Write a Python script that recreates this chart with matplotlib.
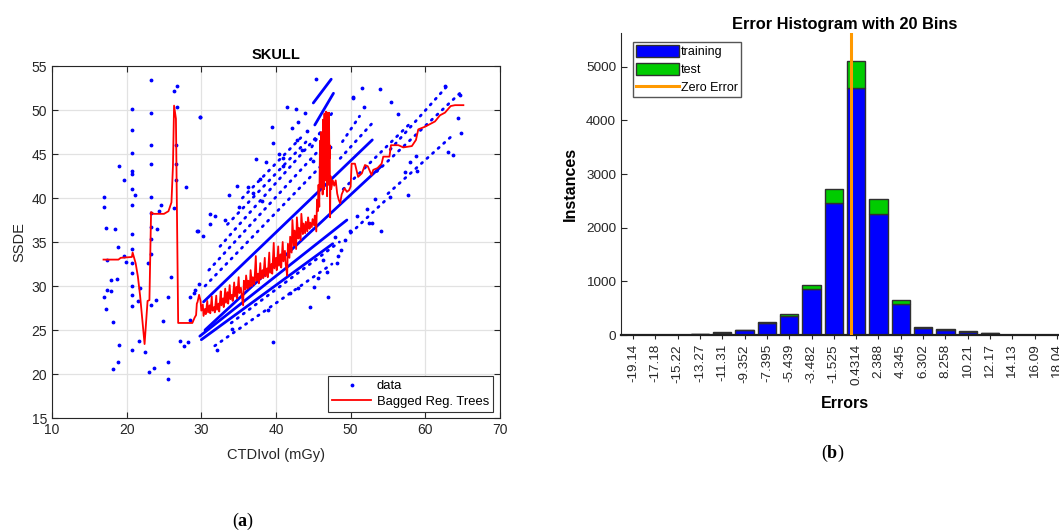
import numpy as np
import matplotlib.pyplot as plt
from matplotlib.lines import Line2D
from matplotlib.patches import Patch

plt.rcParams['font.family'] = ['Liberation Sans', 'DejaVu Sans']
plt.rcParams['mathtext.fontset'] = 'custom'
plt.rcParams['mathtext.bf'] = 'Liberation Serif:bold'

# ---- SKULL: CTDIvol vs SSDE ----
# isolated data points
pts_x = [16.93, 17.0, 17.2, 18.5, 19.0, 19.7, 18.8, 19.6, 19.9, 17.4, 17.95, 18.7, 17.4, 17.95,
         16.9, 17.2, 18.2, 19.0, 18.85, 18.2,
         20.77, 20.77, 20.77, 20.77, 20.77, 20.77, 20.77, 20.77, 20.77, 20.77, 20.77, 20.77,
         20.77, 20.77, 20.77,
         21.1, 21.8, 21.5, 21.7, 22.4,
         23.27, 23.27, 23.27, 23.27, 23.27, 23.27, 23.27, 23.27, 23.27,
         22.9, 23.2, 23.9, 24.1, 24.3, 24.65, 23.6, 23.05, 24.9, 25.55, 26.0, 25.6, 25.6,
         26.35, 26.4, 26.7, 26.7, 26.6, 26.6, 26.6, 27.9, 29.8, 29.5, 29.7, 28.5, 29.1,
         28.5, 27.65, 27.1, 28.2,
         29.8, 41.42, 39.41, 39.63, 42.67, 45.35, 50.35, 37.3, 34.72, 33.73, 33.15, 31.8,
         31.23, 29.44, 42.98, 43.87, 44.2, 42.1, 42.76, 30.24, 31.1, 29.0,
         32.04, 39.55, 44.55, 47.0, 48.12, 41.86, 43.0, 48.7, 49.2,
         51.47, 53.93, 50.27, 51.83, 55.36, 56.4, 62.64, 64.65, 64.4, 64.74, 63.1, 63.76,
         57.72, 54.03, 52.8, 52.5, 55.27, 57.28, 57.95, 58.93, 58.75,
         36.2, 37.8, 38.6, 40.4, 41.0, 35.0, 36.9, 38.1, 40.9, 43.5, 44.9, 46.2, 47.3,
         48.3, 46.8, 45.6, 49.9, 50.8, 52.2, 53.3, 47.9, 46.3, 45.1, 38.9, 34.1]
pts_y = [40.11, 38.98, 36.63, 36.5, 43.67, 42.1, 34.47, 33.4, 32.7, 33.0, 30.64, 30.83, 29.6, 29.47,
         28.75, 27.35, 25.9, 23.26, 21.36, 20.6,
         50.15, 47.69, 45.15, 43.07, 42.69, 40.98, 39.17, 35.87, 34.17, 32.65, 31.44, 30.0,
         28.94, 27.73, 22.73,
         40.3, 29.77, 28.3, 23.75, 22.5,
         53.4, 49.7, 46.0, 43.9, 40.15, 38.33, 36.7, 35.3, 33.67,
         32.65, 27.84, 28.37, 36.5, 38.5, 39.17, 20.7, 20.2, 26.0, 28.75, 31.0, 21.4, 19.4,
         38.83, 52.16, 52.7, 50.3, 46.06, 43.9, 42.05, 41.2, 49.2, 36.25, 30.2, 28.8, 29.6,
         26.1, 23.2, 23.75, 23.6,
         49.24, 50.3, 48.1, 46.2, 50.07, 53.5, 51.44, 44.4, 41.4, 40.34, 37.5, 38.0,
         37.1, 36.3, 48.67, 49.62, 47.6, 47.9, 46.6, 35.68, 38.2, 29.2,
         22.73, 23.67, 27.58, 28.7, 32.58, 29.24, 29.8, 34.1, 35.2,
         52.53, 52.35, 51.4, 50.38, 50.95, 49.6, 52.73, 51.7, 49.05, 47.35, 45.26, 44.9,
         40.34, 36.3, 37.2, 37.2, 40.15, 43.0, 44.1, 43.1, 44.8,
         41.3, 42.2, 44.1, 45.0, 43.6, 39.0, 40.6, 39.7, 44.5, 45.5, 44.2, 43.4, 45.8,
         33.4, 31.6, 30.9, 36.3, 37.9, 38.8, 39.9, 35.6, 33.0, 29.9, 27.3, 25.1]

# dense diagonal runs of points (start x, start y, end x, end y)
dense_x0 = [30.0, 29.8, 30.5, 30.3, 45.0, 45.2]
dense_y0 = [23.9, 24.3, 25.0, 28.2, 50.8, 48.3]
dense_x1 = [47.6, 49.5, 54.1, 52.9, 47.4, 47.7]
dense_y1 = [34.8, 37.5, 43.6, 46.6, 53.5, 51.9]

# sparser diagonal runs
sparse_x0 = [30.5, 31.0, 32.5, 33.5, 35.5, 44.8, 31.8, 34.0, 48.6, 48.9, 49.0, 53.5, 55.0, 50.0,
             55.3]
sparse_y0 = [30.0, 31.8, 34.5, 37.0, 40.0, 45.8, 23.2, 25.8, 44.5, 46.4, 41.0, 43.0, 40.5, 36.0,
             45.5]
sparse_x1 = [47.0, 45.5, 46.0, 44.5, 43.5, 47.6, 47.5, 48.5, 53.0, 51.2, 58.0, 65.0, 63.5, 55.0,
             62.8]
sparse_y1 = [44.5, 45.2, 47.5, 46.8, 47.0, 49.8, 32.5, 35.0, 48.6, 49.3, 48.5, 52.2, 47.0, 40.0,
             52.6]

# bagged regression tree prediction
fit_x = [16.9, 18.9, 19.2, 20.7, 20.8, 21.2, 21.5, 21.8, 22.4, 22.8, 23.05, 23.27, 23.6, 25.0,
         25.6, 26.0, 26.2, 26.35, 26.6, 26.9, 28.8, 29.1, 29.3, 29.4,
         29.5, 29.7, 29.9, 30.0, 30.2, 30.3, 30.5, 30.6, 30.8, 30.9, 31.1, 31.2, 31.4, 31.5,
         31.7, 31.8, 32.0, 32.1, 32.3, 32.4, 32.6, 32.7, 32.9, 33.0, 33.2, 33.3, 33.5, 33.6,
         33.8, 33.9, 34.1, 34.2, 34.4, 34.5, 34.7, 34.8, 35.0, 35.1, 35.3, 35.4, 35.6, 35.7,
         35.9, 36.0, 36.2, 36.3, 36.5, 36.6, 36.8, 36.9, 37.1, 37.3, 37.4, 37.6, 37.7, 37.9,
         38.0, 38.2, 38.3, 38.5, 38.6, 38.8, 38.9, 39.1, 39.2, 39.4, 39.5, 39.7, 39.8, 40.0,
         40.1, 40.3, 40.4, 40.6, 40.7, 40.9, 41.0, 41.2, 41.3, 41.5, 41.6, 41.8, 41.9, 42.1,
         42.2, 42.4, 42.5, 42.7, 42.8, 43.0, 43.1, 43.3, 43.4, 43.6, 43.7, 43.9, 44.0, 44.2,
         44.3, 44.5, 44.6, 44.8, 44.9, 45.1, 45.2, 45.4, 45.5, 45.6, 45.7, 45.8, 45.9, 46.0,
         46.05, 46.1, 46.2, 46.25, 46.3, 46.35, 46.4, 46.45, 46.5, 46.55, 46.6, 46.65, 46.7,
         46.75, 46.8, 46.85, 46.9, 46.95, 47.0, 47.05, 47.1, 47.15, 47.2, 47.25, 47.3, 47.4,
         47.6, 47.8, 48.0, 48.2, 48.4, 48.6, 48.8, 49.0, 49.2, 49.5, 49.8, 50.0,
         50.13, 50.58, 51.0, 51.5, 51.92, 52.3, 52.8, 53.03, 53.6, 54.15, 54.37, 55.2, 55.4,
         56.4, 57.05, 58.2, 58.75, 59.06, 59.96, 60.4, 61.3, 61.97, 62.64, 63.4, 63.98, 65.1]
fit_y = [33.0, 33.0, 33.2, 33.3, 33.8, 32.6, 31.1, 28.9, 23.4, 28.3, 28.4, 38.4, 38.2, 38.2,
         38.5, 39.5, 43.6, 50.5, 49.0, 25.8, 25.8, 26.4, 26.7, 28.0,
         28.2, 29.0, 28.3, 27.2, 27.9, 26.6, 27.4, 26.8, 28.3, 27.0, 27.8, 26.9, 28.8, 27.2,
         27.6, 27.0, 28.9, 27.3, 28.0, 27.1, 29.4, 27.8, 28.6, 27.6, 29.7, 28.1, 29.3, 28.0,
         30.1, 28.5, 29.0, 28.3, 30.4, 28.8, 29.9, 28.6, 31.0, 29.2, 29.8, 29.0, 27.8, 30.6,
         29.6, 31.2, 29.7, 30.6, 29.9, 31.8, 30.0, 31.0, 30.2, 33.4, 30.6, 31.4, 30.3, 32.6,
         30.8, 31.8, 30.9, 33.2, 31.1, 32.0, 31.0, 33.8, 31.5, 32.5, 31.4, 34.9, 32.0, 33.2,
         31.8, 34.5, 32.3, 33.6, 32.1, 35.0, 32.8, 34.0, 32.5, 31.2, 34.8, 33.2, 35.6, 33.8,
         37.5, 34.6, 36.3, 34.2, 37.8, 35.4, 36.6, 35.2, 38.2, 35.9, 37.1, 36.0, 37.3, 36.2,
         37.8, 36.5, 37.2, 36.7, 37.6, 36.9, 38.0, 36.2, 39.8, 38.5, 41.5, 39.0, 46.5, 41.2,
         47.5, 42.0, 45.6, 40.4, 48.9, 43.5, 46.0, 41.0, 49.6, 44.2, 47.8, 42.0, 49.8,
         45.0, 48.5, 40.2, 49.7, 43.8, 47.2, 41.5, 49.7, 44.5, 46.0, 37.8, 42.5, 41.0,
         42.0, 41.4, 42.0, 40.5, 39.8, 39.4, 40.4, 40.8, 41.1, 40.7, 40.9, 41.3,
         43.9, 43.9, 42.4, 42.8, 43.75, 43.6, 42.6, 43.2, 43.4, 43.9, 44.7, 44.7, 46.0,
         46.0, 45.75, 45.9, 46.6, 47.8, 48.1, 48.3, 48.7, 49.4, 49.7, 50.45, 50.55, 50.55]

# ---- error histogram ----
bin_labels = ['-19.14', '-17.18', '-15.22', '-13.27', '-11.31', '-9.352', '-7.395', '-5.439',
              '-3.482', '-1.525', '0.4314', '2.388', '4.345', '6.302', '8.258', '10.21',
              '12.17', '14.13', '16.09', '18.04']
training = [5, 5, 5, 15, 40, 85, 225, 355, 850, 2465, 4600, 2250, 585, 125, 95, 65, 35, 5, 5, 8]
test = [1, 1, 1, 5, 10, 8, 25, 35, 75, 265, 505, 280, 60, 25, 10, 10, 8, 1, 1, 1]

fig = plt.figure(figsize=(10.59, 5.31), dpi=100)
tick_col = '#262626'

# left panel
ax1 = fig.add_axes([0.0491, 0.2128, 0.4230, 0.6629])
for i in range(len(sparse_x0)):
    ax1.plot([sparse_x0[i], sparse_x1[i]], [sparse_y0[i], sparse_y1[i]], color='blue',
             lw=2.0, linestyle=(0, (0.5, 2.2)), dash_capstyle='round', zorder=2)
for i in range(len(dense_x0)):
    ax1.plot([dense_x0[i], dense_x1[i]], [dense_y0[i], dense_y1[i]], color='blue',
             lw=2.0, solid_capstyle='round', zorder=2)
ax1.plot(pts_x, pts_y, '.', color='blue', markersize=3.5, zorder=2)
ax1.plot(fit_x, fit_y, color='red', lw=1.3, zorder=3)

ax1.set_xlim(10, 70)
ax1.set_ylim(15, 55)
ax1.set_xticks(range(10, 71, 10))
ax1.set_yticks(range(15, 56, 5))
ax1.grid(True, color='#e2e2e2', lw=0.9)
ax1.set_axisbelow(True)
ax1.tick_params(direction='in', length=4, top=True, right=True, labelsize=10,
                colors=tick_col, width=0.8)
for s in ax1.spines.values():
    s.set_color(tick_col)
    s.set_linewidth(0.8)
ax1.set_title('SKULL', fontsize=10.5, fontweight='bold', pad=5)
ax1.set_xlabel('CTDIvol (mGy)', fontsize=10.5, color=tick_col, labelpad=8)
ax1.set_ylabel('SSDE', fontsize=10.5, color=tick_col, labelpad=4)
h_data = Line2D([], [], marker='.', linestyle='none', color='blue', markersize=3.5)
h_fit = Line2D([], [], color='red', lw=1.3)
leg1 = ax1.legend([h_data, h_fit], ['data', 'Bagged Reg. Trees'], loc='lower right',
                  bbox_to_anchor=(0.984, 0.018), fontsize=9.4, fancybox=False,
                  edgecolor='#333333', framealpha=1, borderpad=0.3, labelspacing=0.25,
                  handlelength=3.0, handletextpad=0.4, borderaxespad=0)
leg1.get_frame().set_linewidth(0.8)

# right panel
ax2 = fig.add_axes([0.5864, 0.3691, 0.4230, 0.5688])
centers = np.array([float(s) for s in bin_labels])
width = 0.82 * (centers[1] - centers[0])
b1 = ax2.bar(centers, training, width=width, color='#0000ff', edgecolor='#303030', lw=1.0)
b2 = ax2.bar(centers, test, width=width, bottom=training, color='#00cc00',
             edgecolor='#303030', lw=1.0)
zl = ax2.axvline(0, color='#ff9900', lw=2.2, zorder=4)
ax2.set_xlim(centers[0] - 1.05, centers[-1] + 1.05)
ax2.set_ylim(0, 5630)
ax2.set_xticks(centers)
ax2.set_xticklabels(bin_labels, rotation=90)
ax2.set_yticks(range(0, 5001, 1000))
ax2.tick_params(axis='x', direction='out', length=3, labelsize=9.7, colors=tick_col, width=0.8)
ax2.tick_params(axis='y', direction='in', length=4, labelsize=9.7, colors=tick_col, width=0.8)
ax2.spines['top'].set_visible(False)
ax2.spines['right'].set_visible(False)
ax2.spines['left'].set_color(tick_col)
ax2.spines['bottom'].set_color('#202020')
ax2.spines['bottom'].set_linewidth(1.6)
ax2.set_title('Error Histogram with 20 Bins', fontsize=11.8, fontweight='bold', pad=3)
ax2.set_xlabel('Errors', fontsize=11.5, fontweight='bold', labelpad=8)
ax2.set_ylabel('Instances', fontsize=11.5, fontweight='bold', labelpad=6)
leg2 = ax2.legend([Patch(facecolor='#0000ff', edgecolor='#303030'),
                   Patch(facecolor='#00cc00', edgecolor='#303030'),
                   Line2D([], [], color='#ff9900', lw=2.2)],
                  ['training', 'test', 'Zero Error'], loc='upper left',
                  bbox_to_anchor=(0.027, 0.97), fontsize=9, fancybox=False,
                  edgecolor='#555555', framealpha=1, borderpad=0.25, labelspacing=0.35,
                  handlelength=3.4, handleheight=1.1, handletextpad=0.2, borderaxespad=0)
leg2.get_frame().set_linewidth(1.0)

# panel captions
fig.text(243 / 1059, 1 - 521 / 531, r'($\mathbf{a}$)', family='Liberation Serif',
         fontsize=13, ha='center', va='center')
fig.text(833 / 1059, 1 - 453 / 531, r'($\mathbf{b}$)', family='Liberation Serif',
         fontsize=13, ha='center', va='center')

fig.savefig('out.png', dpi=100)
